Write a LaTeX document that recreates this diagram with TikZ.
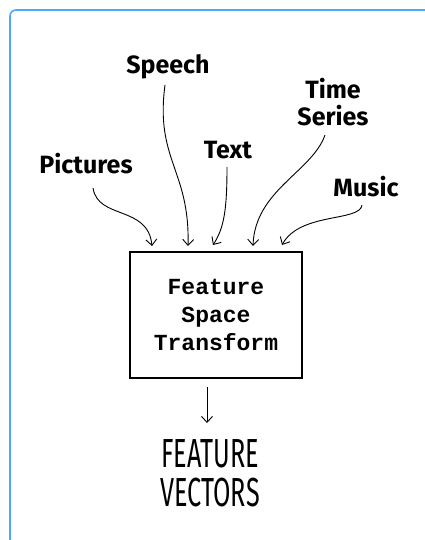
\documentclass[tikz,border=0pt]{standalone}
\usepackage{fontspec}
\setmainfont{Fira Sans}
\newfontfamily\boxfont{Liberation Mono}
\usetikzlibrary{arrows.meta,calc}
\definecolor{frameblue}{HTML}{4DA8FF}
\tikzset{
  lbl/.style={font=\bfseries\fontsize{25}{27}\selectfont, align=center, inner sep=0pt},
  feed/.style={line width=0.9pt, -{Straight Barb[length=6pt,width=11pt]}},
  bigcap/.style={inner sep=0pt, text height=30pt, text depth=0pt, font=\fontsize{28}{28}\selectfont},
}
\begin{document}
\begin{tikzpicture}[x=1pt,y=-1pt]
\useasboundingbox (0,0) rectangle (424,540);
\draw[frameblue, line width=1.6pt, rounded corners=6pt] (10,545) -- (10,10) -- (430,10);
% box
\node[draw, line width=2.6pt, minimum width=172pt, minimum height=126pt, inner sep=0pt,
      font=\boxfont\bfseries\fontsize{23}{28}\selectfont, align=center] (box) at (216,315)
      {Feature\\Space\\Transform};
% labels
\node[lbl] (speech) at (168,67) {Speech};
\node[lbl] (time) at (333,102) {Time\\Series};
\node[lbl] (text) at (228,150) {Text};
\node[lbl] (pict) at (86,164) {Pictures};
\node[lbl] (music) at (366,187) {Music};
\node[bigcap, anchor=base] (fv1) at (210,467) {\scalebox{0.9}[1.45]{FEATURE}};
\node[bigcap, anchor=base] (fv2) at (210,506) {\scalebox{0.9}[1.45]{VECTORS}};
% coordinates
\coordinate (sP) at (93,188);
\coordinate (sS) at (165,85);
\coordinate (sT) at (227,167);
\coordinate (sTS) at (325,135);
\coordinate (sM) at (362,205);
\coordinate (eP) at (152,246);
\coordinate (eS) at (188,246);
\coordinate (eT) at (213,245);
\coordinate (eTS) at (253,246);
\coordinate (eM) at (282,245);
\draw[feed] (sP) .. controls (98,220) and (148,205) .. (eP);
\draw[feed] (sS) .. controls (155,160) and (190,170) .. (eS);
\draw[feed] (sT) .. controls (227,210) and (224,228) .. (eT);
\draw[feed] (sTS) .. controls (312,172) and (255,190) .. (eTS);
\draw[feed] (sM) .. controls (360,222) and (300,212) .. (eM);
\coordinate (sB) at (207,387);
\coordinate (eB) at (207,423);
\draw[feed] (sB) -- (eB);
\end{tikzpicture}
\end{document}
